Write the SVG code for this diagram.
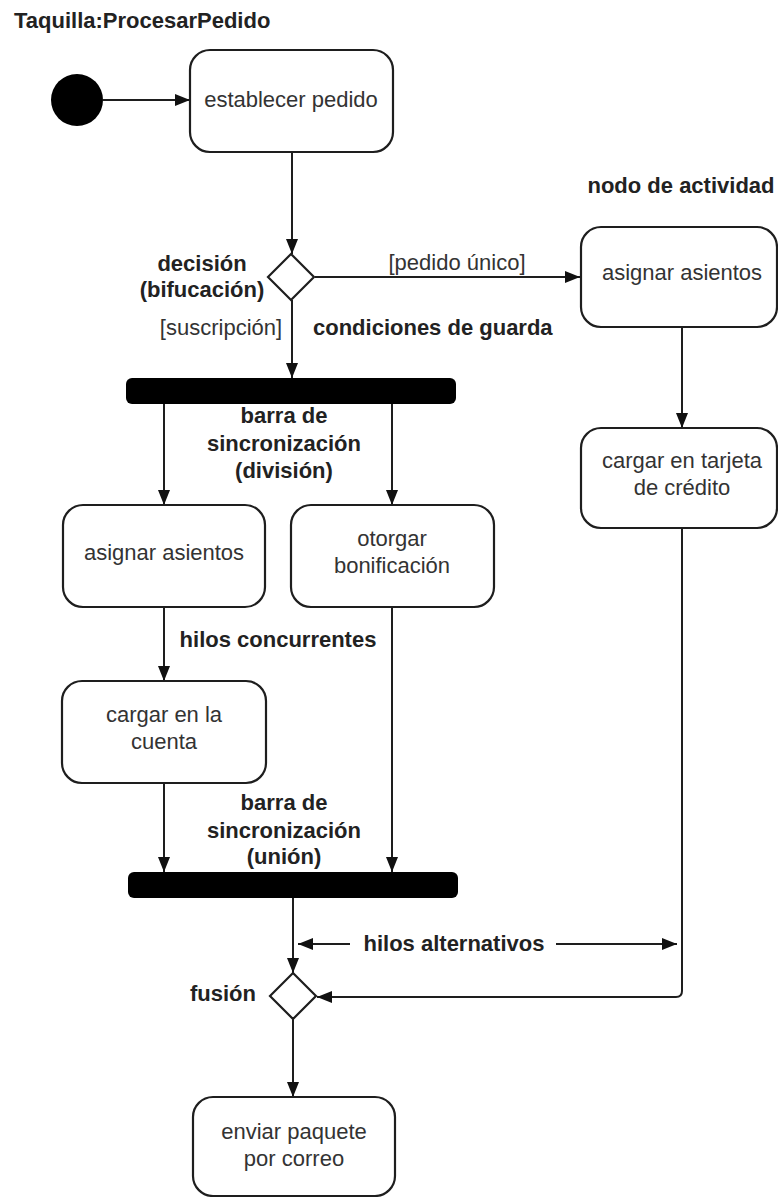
<svg xmlns="http://www.w3.org/2000/svg" width="778" height="1197" viewBox="0 0 778 1197">
  <style>
    .act { fill: #ffffff; stroke: #1e1e1e; stroke-width: 2.2; }
    .bar { fill: #000000; }
    .dec { fill: #ffffff; stroke: #1e1e1e; stroke-width: 2.2; }
    .edge { fill: none; stroke: #1e1e1e; stroke-width: 2; }
    .txt { font-family: "Liberation Sans", Arial, sans-serif; font-size: 22px; fill: #333333; text-anchor: middle; }
    .lbl { font-family: "Liberation Sans", Arial, sans-serif; font-size: 22px; font-weight: bold; fill: #222222; text-anchor: middle; }
  </style>
  <defs>
    <marker id="arrow" viewBox="0 0 15 12" refX="15" refY="6" markerWidth="15" markerHeight="12" markerUnits="userSpaceOnUse" orient="auto">
      <path d="M0,0 L15,6 L0,12 z" fill="#111111"/>
    </marker>
  </defs>

  <rect width="778" height="1197" fill="#ffffff"/>

  <text class="lbl" x="14" y="28" style="text-anchor:start">Taquilla:ProcesarPedido</text>

  <!-- connectors -->
  <g id="connectors">
    <line class="edge" x1="103" y1="100" x2="190" y2="100" marker-end="url(#arrow)"/>
    <line class="edge" x1="292" y1="152" x2="292" y2="254" marker-end="url(#arrow)"/>
    <line class="edge" x1="315" y1="277" x2="580" y2="277" marker-end="url(#arrow)"/>
    <line class="edge" x1="292" y1="300" x2="292" y2="378" marker-end="url(#arrow)"/>
    <line class="edge" x1="682" y1="327" x2="682" y2="428" marker-end="url(#arrow)"/>
    <line class="edge" x1="164" y1="404" x2="164" y2="505" marker-end="url(#arrow)"/>
    <line class="edge" x1="392" y1="404" x2="392" y2="505" marker-end="url(#arrow)"/>
    <line class="edge" x1="164" y1="607" x2="164" y2="681" marker-end="url(#arrow)"/>
    <line class="edge" x1="164" y1="783" x2="164" y2="872" marker-end="url(#arrow)"/>
    <line class="edge" x1="392" y1="607" x2="392" y2="872" marker-end="url(#arrow)"/>
    <line class="edge" x1="293" y1="898" x2="293" y2="973" marker-end="url(#arrow)"/>
    <path class="edge" d="M682,528 L682,991 Q682,997 676,997 L317,997" marker-end="url(#arrow)"/>
    <line class="edge" x1="293" y1="1018" x2="293" y2="1097" marker-end="url(#arrow)"/>
    <!-- pointers for the alternative-threads note -->
    <line class="edge" x1="350" y1="944" x2="298" y2="944" marker-end="url(#arrow)"/>
    <line class="edge" x1="556" y1="944" x2="677" y2="944" marker-end="url(#arrow)"/>

    <text class="txt" x="457" y="270">[pedido único]</text>
    <text class="txt" x="221" y="335">[suscripción]</text>
  </g>

  <g id="inicio">
    <circle cx="77" cy="100" r="26" fill="#000000"/>
  </g>

  <g id="establecer-pedido">
    <rect class="act" x="190" y="50" width="203" height="102" rx="20"/>
    <text class="txt" x="291" y="107">establecer pedido</text>
  </g>

  <g id="decision">
    <path class="dec" d="M291,254 L314,277 L291,300 L268,277 z"/>
    <text class="lbl" x="202" y="271">decisión</text>
    <text class="lbl" x="202" y="297">(bifucación)</text>
  </g>

  <g id="nota-guarda">
    <text class="lbl" x="313" y="335" style="text-anchor:start">condiciones de guarda</text>
  </g>

  <g id="asignar-asientos-unico">
    <text class="lbl" x="681" y="193">nodo de actividad</text>
    <rect class="act" x="581" y="227" width="196" height="100" rx="20"/>
    <text class="txt" x="682" y="280">asignar asientos</text>
  </g>

  <g id="cargar-tarjeta">
    <rect class="act" x="581" y="428" width="196" height="100" rx="20"/>
    <text class="txt" x="682" y="468">cargar en tarjeta</text>
    <text class="txt" x="682" y="495">de crédito</text>
  </g>

  <g id="division">
    <rect class="bar" x="126" y="378" width="330" height="26" rx="6"/>
    <text class="lbl" x="284" y="423">barra de</text>
    <text class="lbl" x="284" y="451">sincronización</text>
    <text class="lbl" x="284" y="478">(división)</text>
  </g>

  <g id="asignar-asientos">
    <rect class="act" x="63" y="505" width="202" height="102" rx="20"/>
    <text class="txt" x="164" y="560">asignar asientos</text>
  </g>

  <g id="otorgar-bonificacion">
    <rect class="act" x="291" y="505" width="203" height="102" rx="20"/>
    <text class="txt" x="392" y="546">otorgar</text>
    <text class="txt" x="392" y="573">bonificación</text>
  </g>

  <g id="nota-concurrentes">
    <text class="lbl" x="278" y="647">hilos concurrentes</text>
  </g>

  <g id="cargar-cuenta">
    <rect class="act" x="62" y="681" width="204" height="102" rx="20"/>
    <text class="txt" x="164" y="722">cargar en la</text>
    <text class="txt" x="164" y="749">cuenta</text>
  </g>

  <g id="union">
    <text class="lbl" x="284" y="810">barra de</text>
    <text class="lbl" x="284" y="838">sincronización</text>
    <text class="lbl" x="284" y="864">(unión)</text>
    <rect class="bar" x="128" y="872" width="330" height="26" rx="6"/>
  </g>

  <g id="nota-alternativos">
    <text class="lbl" x="454" y="951">hilos alternativos</text>
  </g>

  <g id="fusion">
    <path class="dec" d="M293,973 L316,996 L293,1019 L270,996 z"/>
    <text class="lbl" x="223" y="1001">fusión</text>
  </g>

  <g id="enviar-paquete">
    <rect class="act" x="193" y="1097" width="202" height="99" rx="20"/>
    <text class="txt" x="294" y="1139">enviar paquete</text>
    <text class="txt" x="294" y="1166">por correo</text>
  </g>
</svg>
